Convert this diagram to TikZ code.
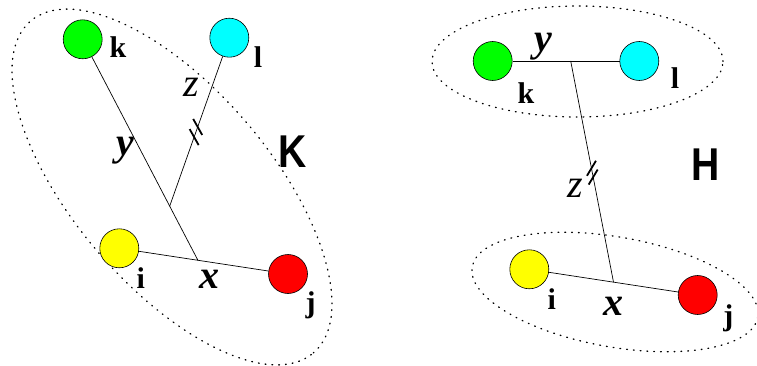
\documentclass[tikz,border=0pt]{standalone}
\usepackage{fontspec}
\setmainfont{Liberation Serif}
\newfontfamily\hsans{Liberation Sans}
\usetikzlibrary{calc}
\definecolor{xgreen}{RGB}{0,255,0}
\definecolor{xcyan}{RGB}{0,255,255}
\definecolor{xyellow}{RGB}{255,255,0}
\definecolor{xred}{RGB}{255,0,0}
\begin{document}
\begin{tikzpicture}[x=1pt,y=-1pt,
  vert/.style={circle,draw=black,line width=0.6pt,minimum size=39pt,inner sep=0pt},
  edge/.style={line width=0.7pt},
  tick/.style={line width=1.8pt},
  grp/.style={line width=1.3pt,dash pattern=on 0.8pt off 6pt,line cap=round},
  lab/.style={font=\fontsize{30}{30}\selectfont\bfseries,inner sep=0pt},
  var/.style={font=\fontsize{40}{40}\selectfont\itshape,inner sep=0pt},
  bvar/.style={font=\fontsize{40}{40}\selectfont\bfseries\itshape,inner sep=0pt},
  big/.style={font=\hsans\fontsize{46}{46}\selectfont\bfseries,inner sep=0pt}]
\useasboundingbox (0,0) rectangle (757,366);
% ---------- left panel (K) ----------
\draw[grp, rotate around={-49.6:(172,187)}] (172,187) ellipse [x radius=218pt, y radius=98.5pt];
\node[vert, fill=xgreen]  (k1) at (82.7,39.3) {};
\node[vert, fill=xcyan]   (l1) at (229.3,37.7) {};
\node[vert, fill=xyellow] (i1) at (119.3,248.3) {};
\node[vert, fill=xred]    (j1) at (288,274) {};
\coordinate (J1) at ($(i1)!0.466!(j1)$);
\coordinate (J2) at ($(k1)!0.755!(J1)$);
\draw[edge] (i1) -- (j1);
\draw[edge] (k1) -- (J1);
\draw[edge] (l1) -- (J2);
\draw[tick] ($(l1)!0.53!(J2)+(-4.5,-8)$) -- ++(9,16);
\draw[tick] ($(l1)!0.59!(J2)+(-4.5,-8)$) -- ++(9,16);
\node[lab] (tk1) at (118,47.5) {k};
\node[lab] (tl1) at (258,57) {l};
\node[lab] (ti1) at (140.7,278.5) {i};
\node[lab] (tj1) at (310.7,305) {j};
\node[bvar] (tx1) at (209,279) {x};
\node[bvar] (ty1) at (125,150.7) {y};
\node[var] (tz1) at (191,87.3) {z};
\node[big] (tK) at (292.5,152) {\scalebox{0.85}[1]{K}};
% ---------- right panel (H) ----------
\draw[grp] (577.5,61.5) ellipse [x radius=145.5pt, y radius=55.5pt];
\draw[grp, rotate around={-10:(615,292)}] (615,292) ellipse [x radius=145pt, y radius=55pt];
\node[vert, fill=xgreen]  (k2) at (492.7,61) {};
\node[vert, fill=xcyan]   (l2) at (639.3,61) {};
\node[vert, fill=xyellow] (i2) at (529.3,269.3) {};
\node[vert, fill=xred]    (j2) at (697.7,295) {};
\coordinate (J3) at ($(k2)!0.532!(l2)$);
\coordinate (J4) at ($(i2)!0.5!(j2)$);
\draw[edge] (k2) -- (l2);
\draw[edge] (i2) -- (j2);
\draw[edge] (J3) -- (J4);
\draw[tick] ($(J3)!0.485!(J4)+(-4.5,7.5)$) -- ++(9,-15);
\draw[tick] ($(J3)!0.525!(J4)+(-4.5,7.5)$) -- ++(9,-15);
\node[lab] (tk2) at (526,92.7) {k};
\node[lab] (tl2) at (675,78.3) {l};
\node[lab] (ti2) at (551.7,299) {i};
\node[lab] (tj2) at (728.3,318.3) {j};
\node[bvar] (tx2) at (613.3,306) {x};
\node[bvar] (ty2) at (543.3,46.7) {y};
\node[var] (tz2) at (575,188.3) {z};
\node[big] (tH) at (706,165) {\scalebox{0.85}[1]{H}};
\end{tikzpicture}
\end{document}
